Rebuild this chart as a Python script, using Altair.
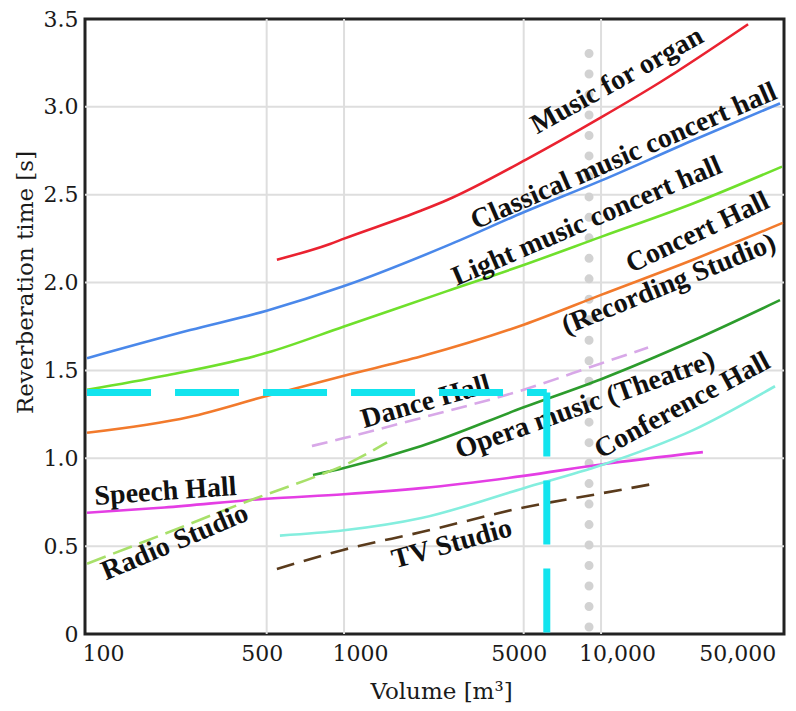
import altair as alt
import pandas as pd

# ---- curve data: volume [m3] and reverberation time [s] ----
organ_v = [548, 882, 1000, 2000, 2518, 5105, 10000, 16970, 37330]
organ_t = [2.13, 2.22, 2.25, 2.41, 2.47, 2.70, 2.94, 3.14, 3.47]

classical_v = [100, 252, 500, 1000, 2518, 5000, 10000, 22800, 49700]
classical_t = [1.57, 1.73, 1.84, 1.98, 2.21, 2.40, 2.58, 2.81, 3.02]

light_v = [100, 200, 500, 1000, 2500, 5000, 10000, 22800, 50600]
light_t = [1.39, 1.47, 1.60, 1.75, 1.95, 2.10, 2.26, 2.45, 2.66]

concert_v = [100, 250, 500, 1000, 2000, 5000, 10000, 22800, 51000]
concert_t = [1.145, 1.235, 1.355, 1.47, 1.58, 1.76, 1.93, 2.13, 2.34]

opera_v = [757, 1000, 2000, 5000, 10000, 22800, 49700]
opera_t = [0.905, 0.945, 1.07, 1.29, 1.45, 1.67, 1.90]

speech_v = [100, 200, 500, 1000, 2000, 5000, 10000, 24900]
speech_t = [0.69, 0.72, 0.77, 0.795, 0.83, 0.90, 0.965, 1.035]

conference_v = [563, 1000, 2000, 5000, 10000, 22800, 47500]
conference_t = [0.56, 0.59, 0.66, 0.83, 0.96, 1.16, 1.41]

dance_v = [750, 1000, 2000, 5000, 10000, 15240]
dance_t = [1.07, 1.115, 1.23, 1.39, 1.54, 1.63]

radio_v = [100, 200, 430, 757, 1000, 1470]
radio_t = [0.40, 0.57, 0.76, 0.89, 0.96, 1.09]

tv_v = [548, 1000, 2000, 5000, 10000, 16070]
tv_t = [0.37, 0.48, 0.58, 0.72, 0.80, 0.855]

# ---- annotations ----
label_text = ["Music for organ", "Classical music concert hall", "Light music concert hall",
              "Concert Hall", "(Recording Studio)", "Dance Hall", "Opera music (Theatre)",
              "Conference Hall", "Speech Hall", "Radio Studio", "TV Studio"]
label_v = [11960, 12630, 9060, 24490, 18880, 2122, 8890, 21430, 203, 226, 2680]
label_t = [3.108, 2.675, 2.305, 2.242, 1.946, 1.275, 1.258, 1.258, 0.763, 0.478, 0.467]
label_angle = [331, 336.5, 336.8, 334.6, 338, 344, 340.4, 331.7, 356, 337, 344.5]

marker_volume = 6150      # cyan dashed guide
marker_time = 1.375
dotted_volume = 8980      # grey dotted vertical
dotted_from, dotted_to = 0.04, 3.42

x_ticks = [100, 500, 1000, 5000, 10000, 50000]
x_grid = [500, 1000, 5000, 10000]
y_ticks = [0, 0.5, 1.0, 1.5, 2.0, 2.5, 3.0, 3.5]
y_grid = [0.5, 1.0, 1.5, 2.0, 2.5, 3.0]

solid_names = ["organ", "classical", "light", "concert", "opera", "speech", "conference"]
solid_colors = ["#ea2230", "#4a88ea", "#6fe02c", "#f27a2c", "#2c9c2c", "#e43ee4", "#84eede"]

rows = []
for name, vs, ts in [("organ", organ_v, organ_t), ("classical", classical_v, classical_t),
                     ("light", light_v, light_t), ("concert", concert_v, concert_t),
                     ("opera", opera_v, opera_t), ("speech", speech_v, speech_t),
                     ("conference", conference_v, conference_t), ("dance", dance_v, dance_t),
                     ("radio", radio_v, radio_t), ("tv", tv_v, tv_t)]:
    for v, t in zip(vs, ts):
        rows.append({"series": name, "volume": v, "time": t})
df = pd.DataFrame(rows)

labels_df = pd.DataFrame({"label": label_text, "volume": label_v, "time": label_t, "angle": label_angle})

x_scale = alt.Scale(type="log", domain=[98.2, 51500], nice=False)
y_scale = alt.Scale(domain=[0, 3.5], nice=False, zero=False)

FONT_AX = "DejaVu Serif"

x_axis = alt.Axis(
    values=x_ticks, grid=False, ticks=False, domain=False,
    labelExpr="datum.value >= 10000 ? format(datum.value, ',') : format(datum.value, 'd')",
    labelFont=FONT_AX, labelFontSize=22, labelColor="#1a1a1a", labelPadding=9,
    labelFlush=8,
    labelOffset={"condition": {"test": "datum.value == 1000 || datum.value == 10000", "value": 16}, "value": -5},
    title="Volume [m³]", titleFont=FONT_AX, titleFontSize=23, titleFontWeight="normal",
    titleColor="#1a1a1a", titleX=356, titleY=64, titleAlign="center", titleBaseline="alphabetic",
)
y_axis = alt.Axis(
    values=y_ticks, grid=False, ticks=False, domain=False,
    labelExpr="datum.value == 0 ? '0' : format(datum.value, '.1f')",
    labelFont=FONT_AX, labelFontSize=22, labelColor="#1a1a1a", labelPadding=7, labelFlush=False,
    title="Reverberation time [s]", titleFont=FONT_AX, titleFontSize=23, titleFontWeight="normal",
    titleColor="#1a1a1a", titleX=-60, titleY=263, titleAngle=270, titleAlign="center", titleBaseline="middle",
)

vgrid = alt.Chart(pd.DataFrame({"volume": x_grid})).mark_rule(color="#dedede", strokeWidth=2).encode(
    x=alt.X("volume:Q", scale=x_scale, axis=x_axis)
)
hgrid = alt.Chart(pd.DataFrame({"time": y_grid})).mark_rule(color="#dedede", strokeWidth=2).encode(
    y=alt.Y("time:Q", scale=y_scale, axis=y_axis)
)

dotted = alt.Chart(pd.DataFrame({"volume": [dotted_volume], "t0": [dotted_from], "t1": [dotted_to]})).mark_rule(
    color="#d2d2d2", strokeWidth=9, strokeDash=[0, 20.48], strokeCap="round"
).encode(
    x=alt.X("volume:Q", scale=x_scale),
    y=alt.Y("t0:Q", scale=y_scale),
    y2="t1:Q",
)

solid = alt.Chart(df[df.series.isin(solid_names)]).mark_line(strokeWidth=2.6, interpolate="monotone").encode(
    x=alt.X("volume:Q", scale=x_scale),
    y=alt.Y("time:Q", scale=y_scale),
    color=alt.Color("series:N", scale=alt.Scale(domain=solid_names, range=solid_colors), legend=None),
    detail="series:N",
)

def dashed(name, color, dash):
    return alt.Chart(df[df.series == name]).mark_line(
        strokeWidth=2.6, interpolate="monotone", color=color, strokeDash=dash
    ).encode(
        x=alt.X("volume:Q", scale=x_scale),
        y=alt.Y("time:Q", scale=y_scale),
    )

dance_line = dashed("dance", "#d8a8e8", [16, 8])
radio_line = dashed("radio", "#a8e06a", [20, 8])
tv_line = dashed("tv", "#5a3b1c", [18, 10])

texts = alt.Chart(labels_df).mark_text(
    font="Liberation Serif", fontSize=28, fontWeight="bold", color="#111",
    align="center", baseline="alphabetic"
).encode(
    x=alt.X("volume:Q", scale=x_scale),
    y=alt.Y("time:Q", scale=y_scale),
    text="label:N",
    angle=alt.Angle("angle:Q", scale=None),
)

cyan_h = alt.Chart(pd.DataFrame({"v0": [100], "v1": [marker_volume], "t": [marker_time]})).mark_rule(
    color="#12e4ee", strokeWidth=7, strokeDash=[64, 24]
).encode(
    x=alt.X("v0:Q", scale=x_scale), x2="v1:Q", y=alt.Y("t:Q", scale=y_scale)
)
cyan_v = alt.Chart(pd.DataFrame({"v": [marker_volume], "t0": [marker_time], "t1": [0]})).mark_rule(
    color="#12e4ee", strokeWidth=7, strokeDash=[64, 24]
).encode(
    x=alt.X("v:Q", scale=x_scale), y=alt.Y("t0:Q", scale=y_scale), y2="t1:Q"
)

chart = alt.layer(
    vgrid, hgrid, dotted, solid, dance_line, radio_line, tv_line, texts, cyan_h, cyan_v
).properties(
    width=699, height=615,
    autosize=alt.AutoSizeParams(type="none"),
    padding={"left": 77, "top": 11, "right": 4, "bottom": 69},
    background="white",
).configure_view(stroke="#222", strokeWidth=3)

chart.save("out.html", embed_options={"renderer": "svg", "actions": False})
